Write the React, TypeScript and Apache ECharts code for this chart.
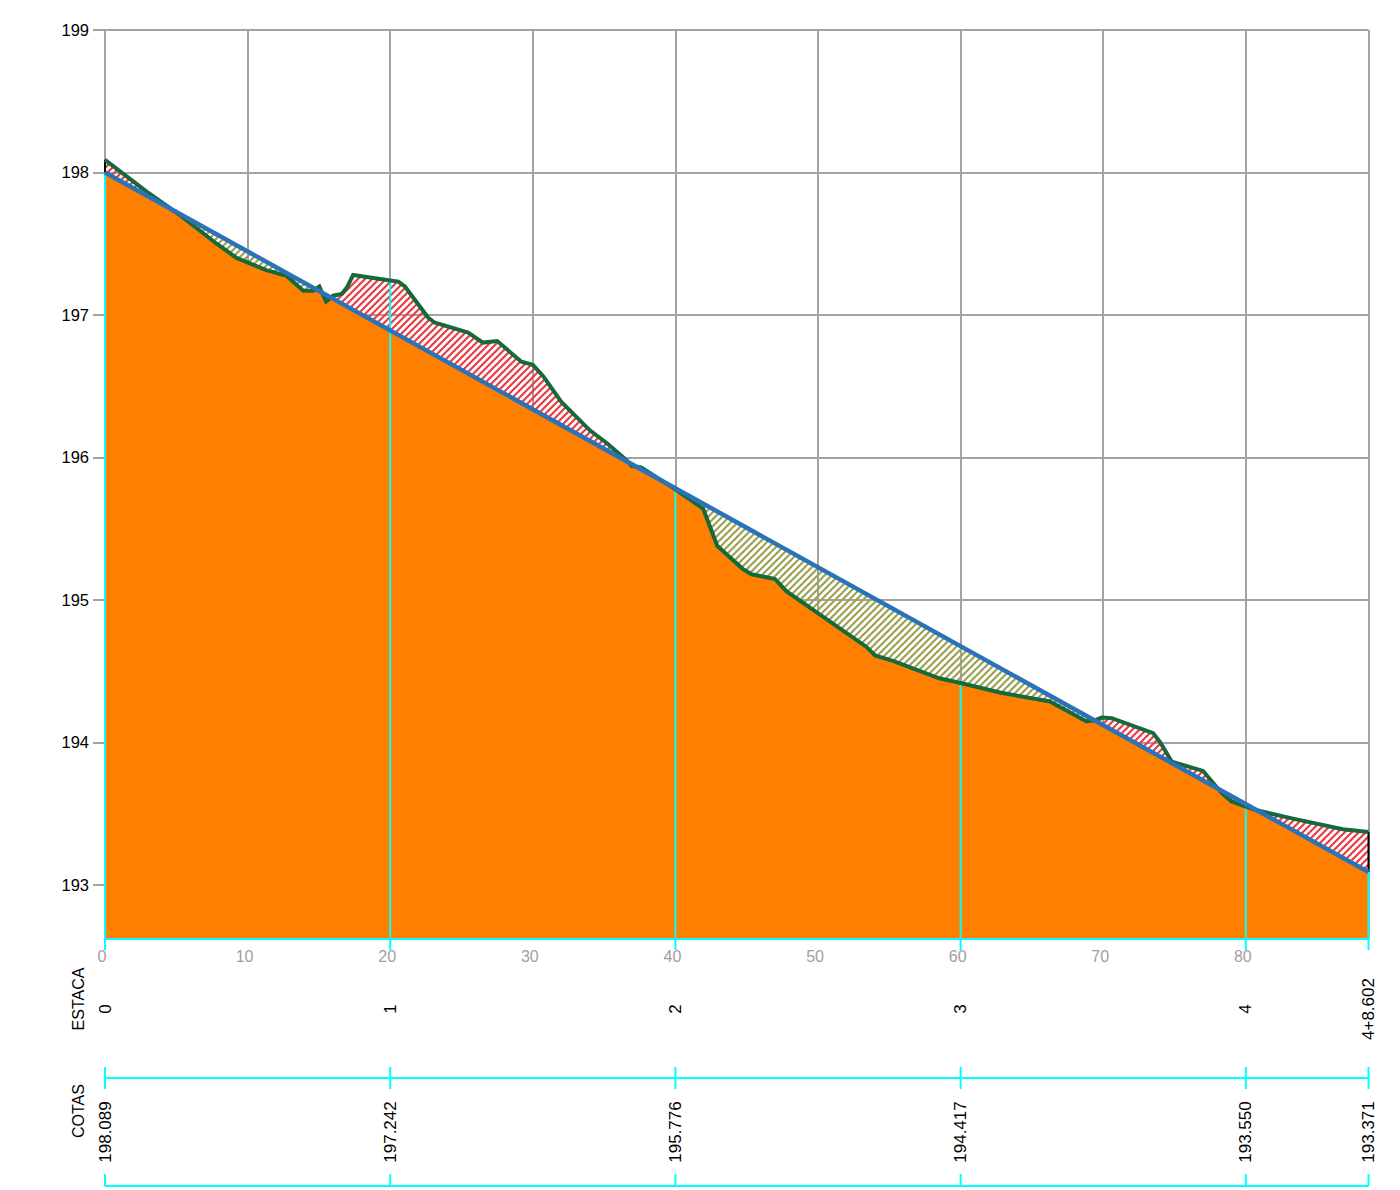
import React, { useEffect, useRef } from "react";
import * as echarts from "echarts";

const yMin = 192.62;
const yMax = 199;
const yTicks = [193, 194, 195, 196, 197, 198, 199];
const xEnd = 88.602;
const xLabels = [0, 10, 20, 30, 40, 50, 60, 70, 80];
const xGrid = [...xLabels, xEnd];

const terrainX = [
  0, 2.92, 5.26, 7.83, 9.23, 11.3, 12.74, 13.9, 14.6, 15.03, 15.5, 16.0, 16.6, 16.95, 17.4, 20, 20.57, 21.03,
  22.67, 23.14, 25.47, 26.5, 27.5, 29.2, 30, 30.73, 32.0, 34, 35.2, 36.57, 36.93, 37.6, 40, 41.95, 42.93,
  44.75, 45.34, 46.98, 47.8, 53.4, 54, 55.3, 58.5, 60, 62.75, 66.26, 68.83, 69.4, 69.9, 70.6, 73.5, 74.0,
  74.8, 77, 78.3, 79, 80, 80.7, 83.3, 86.8, 88.602,
];
const terrainY = [
  198.089, 197.865, 197.7, 197.5, 197.4, 197.315, 197.274, 197.17, 197.17, 197.2, 197.094, 197.135, 197.147,
  197.19, 197.28, 197.242, 197.234, 197.2, 196.98, 196.945, 196.876, 196.806, 196.817, 196.672, 196.65, 196.57,
  196.39, 196.19, 196.1, 195.98, 195.94, 195.93, 195.776, 195.64, 195.38, 195.215, 195.18, 195.147, 195.06,
  194.67, 194.61, 194.57, 194.45, 194.417, 194.35, 194.287, 194.147, 194.155, 194.175, 194.17, 194.065, 194.0,
  193.865, 193.8, 193.645, 193.585, 193.55, 193.525, 193.465, 193.39, 193.371,
];
const designX = [0, 88.602];
const designY = [198.0, 193.09];

const stationX = [0, 20, 40, 60, 80, 88.602];
const stationTop = [198.0, 197.242, 195.776, 194.417, 193.55, 193.09];
const estacaLabels = ["0", "1", "2", "3", "4", "4+8.602"];
const cotasLabels = ["198.089", "197.242", "195.776", "194.417", "193.550", "193.371"];
const blackEnds = [
  [0, 198.089, 198.0],
  [88.602, 193.371, 193.09],
];

const GRAY = "#a3a3a3";
const CYAN = "#00ffff";
const FONT = '"Liberation Sans", Arial, sans-serif';

const designAt = (x: number) =>
  designY[0] + ((designY[1] - designY[0]) * (x - designX[0])) / (designX[1] - designX[0]);

function lowerEnvelope() {
  const out: number[][] = [];
  for (let i = 0; i < terrainX.length; i++) {
    const x = terrainX[i];
    const t = terrainY[i];
    const d = designAt(x);
    if (i > 0) {
      const px = terrainX[i - 1];
      const pd = terrainY[i - 1] - designAt(px);
      const cd = t - d;
      if (pd * cd < 0) {
        const f = pd / (pd - cd);
        const cx = px + (x - px) * f;
        out.push([cx, designAt(cx)]);
      }
    }
    out.push([x, Math.min(t, d)]);
  }
  return out;
}

function hatch(color: string) {
  const s = 7;
  const c = document.createElement("canvas");
  c.width = s;
  c.height = s;
  const g = c.getContext("2d") as CanvasRenderingContext2D;
  g.strokeStyle = color;
  g.lineWidth = 2.1;
  g.lineCap = "square";
  for (const o of [-s, 0, s]) {
    g.beginPath();
    g.moveTo(o, s);
    g.lineTo(o + s, 0);
    g.stroke();
  }
  return { image: c, repeat: "repeat" };
}

export default function App() {
  const ref = useRef<HTMLDivElement>(null);
  useEffect(() => {
    const chart = echarts.init(ref.current as HTMLDivElement, undefined, { renderer: "svg" });
    const terrain = terrainX.map((x, i) => [x, terrainY[i]]);
    const design = designX.map((x, i) => [x, designY[i]]);
    const area = (name: string, data: number[][], color: any, z: number) => ({
      name,
      type: "line",
      data,
      z,
      silent: true,
      showSymbol: false,
      symbol: "none",
      lineStyle: { width: 0 },
      areaStyle: { color, opacity: 1, origin: "start" },
    });
    const line = (name: string, data: number[][], color: string, width: number, z: number) => ({
      name,
      type: "line",
      data,
      z,
      silent: true,
      clip: false,
      showSymbol: false,
      symbol: "none",
      lineStyle: { color, width, cap: "butt", join: "miter" },
    });
    const rot = (text: string, x: number, y: number, size = 17) => ({
      type: "text",
      x,
      y,
      rotation: Math.PI / 2,
      style: { text, fill: "#000", font: `${size}px ${FONT}`, align: "center", verticalAlign: "middle" },
    });
    const seg = (x1: number, y1: number, x2: number, y2: number) => ({
      type: "line",
      shape: { x1, y1, x2, y2 },
      style: { stroke: CYAN, lineWidth: 2 },
    });
    chart.setOption({
      animation: false,
      grid: { left: 105, right: 31.5, top: 30, bottom: 251 },
      xAxis: {
        type: "value",
        min: 0,
        max: xEnd,
        axisLine: { show: false },
        axisTick: { show: false, customValues: xGrid },
        axisLabel: {
          customValues: xLabels,
          color: "#a0a0a0",
          fontSize: 16,
          fontFamily: FONT,
          margin: 9,
          padding: [0, 6, 0, 0],
          hideOverlap: false,
        },
        splitLine: { show: true, lineStyle: { color: GRAY, width: 2 } },
      },
      yAxis: {
        type: "value",
        min: yMin,
        max: yMax,
        axisLine: { show: false },
        axisTick: { show: true, length: 12, customValues: yTicks, lineStyle: { color: GRAY, width: 2 } },
        axisLabel: { customValues: yTicks, color: "#000", fontSize: 16.5, fontFamily: FONT, margin: 16 },
        splitLine: { show: true, lineStyle: { color: GRAY, width: 2 } },
      },
      series: [
        area("Corte", terrain, hatch("#ea3a44"), 2),
        area("Aterro", design, hatch("#9ba24f"), 2.5),
        area("Base", lowerEnvelope(), "#ff8000", 3),
        ...stationX.map((x, i) => line(`Estaca ${estacaLabels[i]}`, [[x, yMin], [x, stationTop[i]]], CYAN, 2, 4)),
        ...blackEnds.map((b, i) => line(`Extremo ${i}`, [[b[0], b[1]], [b[0], b[2]]], "#000000", 2, 4)),
        {
          name: "Tabela",
          type: "custom",
          z: 4,
          silent: true,
          clip: false,
          data: stationX.map((x, i) => [x, yMin, i]),
          encode: { x: 0, y: 1 },
          renderItem: (_p: any, api: any) => {
            const i = api.value(2) as number;
            const [px, py] = api.coord([api.value(0), yMin]);
            const children: any[] = [
              seg(px, py, px, py + 11),
              seg(px, py + 128, px, py + 150),
              seg(px, py + 235, px, py + 247),
              rot(estacaLabels[i], px, py + 70),
              rot(cotasLabels[i], px, py + 193),
            ];
            if (i < stationX.length - 1) {
              const nx = api.coord([stationX[i + 1], yMin])[0];
              children.push(seg(px, py, nx, py), seg(px, py + 139, nx, py + 139), seg(px, py + 247, nx, py + 247));
            }
            if (i === 0) {
              children.push(rot("ESTACA", px - 27, py + 60, 16), rot("COTAS", px - 27, py + 172, 16));
            }
            return { type: "group", children };
          },
        },
        line("Terreno", terrain, "#15693a", 4, 5),
        line("Greide", design, "#2b73b9", 4.5, 6),
      ],
    });
    return () => chart.dispose();
  }, []);
  return <div ref={ref} style={{ position: "absolute", left: 0, top: 0, width: 1400, height: 1190 }} />;
}
